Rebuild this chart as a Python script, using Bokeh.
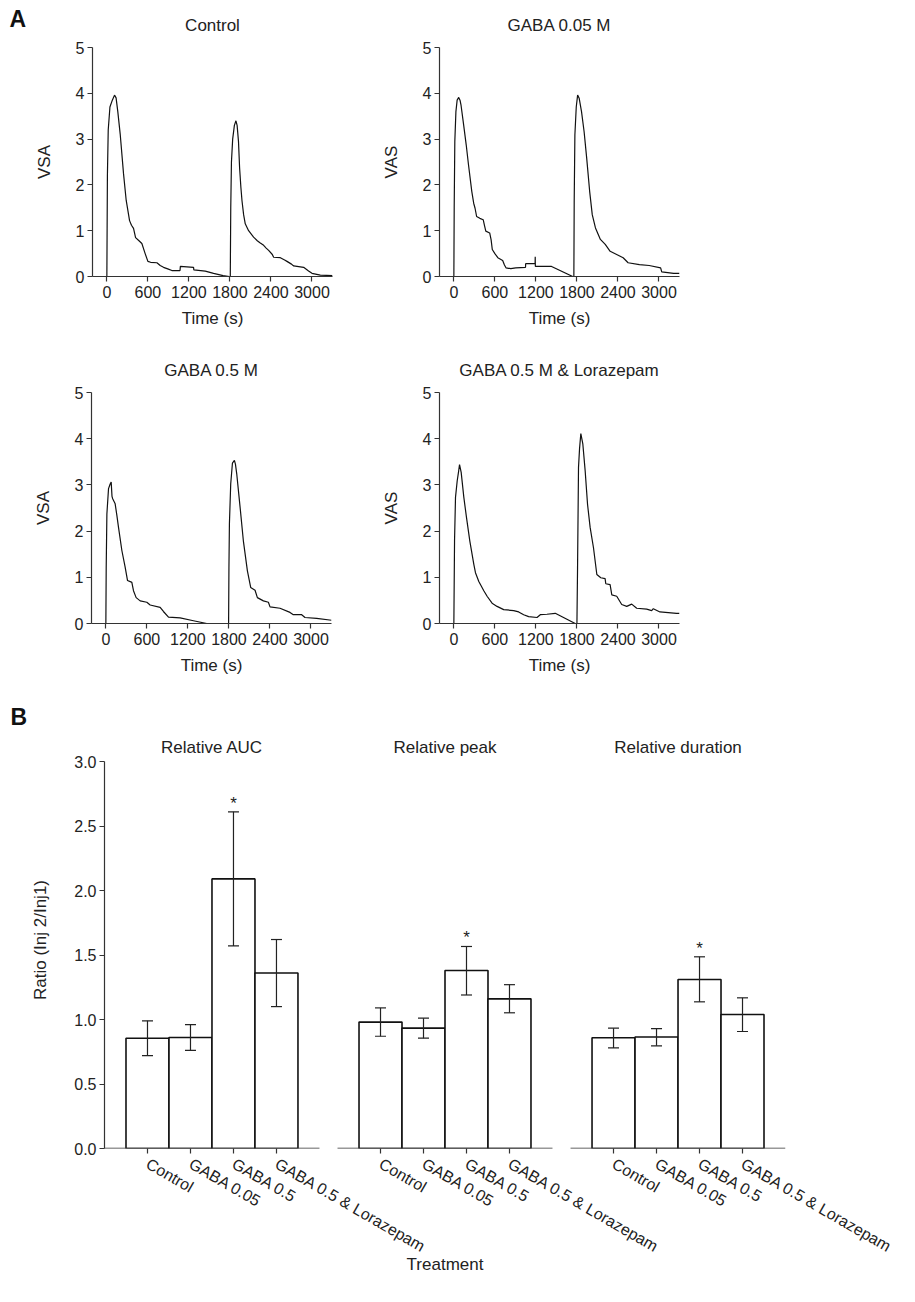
from bokeh.plotting import figure
from bokeh.layouts import column, row
from bokeh.models import (FixedTicker, Range1d, Whisker, TeeHead, LabelSet,
                          ColumnDataSource, NumeralTickFormatter)
from bokeh.core.properties import value
from bokeh.embed import file_html
from bokeh.resources import INLINE

FONT = "Liberation Sans"
TXT = "#222222"
AX = "#333333"
LINE = "#111111"

panel_letters = ["A", "B"]

# ---------------- Panel A data (time in s, VAS/VSA score) ----------------
time_ticks = [0, 600, 1200, 1800, 2400, 3000]
score_ticks = [0, 1, 2, 3, 4, 5]

ctrl_t = [0, 8, 20, 45, 80, 112, 135, 160, 195, 244, 283, 332, 360, 390, 420, 470, 512, 560, 600,
          640, 732, 780, 829, 900, 951, 1070, 1075, 1268, 1272, 1439, 1561, 1700, 1790,
          1805, 1812, 1822, 1840, 1865, 1888, 1905, 1925, 1941, 1960, 1976, 2000, 2024, 2073, 2146,
          2200, 2244, 2293, 2330, 2366, 2420, 2439, 2537, 2600, 2634, 2700, 2732, 2878, 2950, 3000,
          3122, 3300]
ctrl_v = [0, 2.2, 3.2, 3.7, 3.85, 3.96, 3.9, 3.6, 3.11, 2.24, 1.66, 1.22, 1.12, 1.05, 0.85, 0.78,
          0.72, 0.5, 0.33, 0.31, 0.3, 0.24, 0.2, 0.16, 0.13, 0.13, 0.22, 0.2, 0.145, 0.116, 0.07,
          0.02, 0.0,
          0.0, 1.5, 2.5, 3.0, 3.3, 3.4, 3.3, 2.95, 2.38, 1.95, 1.66, 1.35, 1.15, 1.0, 0.86, 0.78,
          0.73, 0.68, 0.62, 0.57, 0.48, 0.42, 0.41, 0.36, 0.33, 0.27, 0.23, 0.2, 0.12, 0.07, 0.03,
          0.02]

g005_t = [0, 5, 14, 30, 48, 71, 90, 105, 143, 181, 214, 262, 290, 310, 333, 380, 429, 450, 467,
          524, 545, 562, 600, 643, 714, 740, 762, 833, 905, 1048, 1050, 1188, 1190, 1192, 1429,
          1738, 1755,
          1760, 1770, 1790, 1810, 1833, 1867, 1905, 1943, 1986, 2024, 2071, 2143, 2214, 2286, 2381,
          2476, 2548, 2714, 2857, 3024, 3040, 3214, 3300]
g005_v = [0, 1.5, 2.95, 3.6, 3.85, 3.91, 3.85, 3.74, 3.31, 2.87, 2.44, 1.86, 1.6, 1.49, 1.31, 1.27,
          1.24, 1.1, 0.99, 0.95, 0.8, 0.59, 0.5, 0.41, 0.35, 0.25, 0.19, 0.17, 0.19, 0.2, 0.28, 0.28,
          0.43, 0.22, 0.22, 0.0, 0.0,
          1.64, 3.09, 3.7, 3.96, 3.89, 3.6, 3.16, 2.58, 1.86, 1.35, 1.06, 0.81, 0.7, 0.55, 0.48,
          0.41, 0.3, 0.26, 0.24, 0.19, 0.1, 0.07, 0.07]

g05_t = [0, 5, 15, 39, 63, 78, 90, 100, 136, 160, 185, 234, 282, 317, 365, 380, 404, 443, 502,
         599, 648, 794, 842, 916, 1086, 1281, 1476, 1795,
         1800, 1807, 1826, 1851, 1880, 1895, 1914, 1963, 2011, 2070, 2118, 2182, 2216, 2304, 2377,
         2401, 2547, 2693, 2742, 2864, 2912, 3083, 3300]
g05_v = [0, 1.2, 2.37, 2.92, 3.02, 3.06, 2.75, 2.7, 2.59, 2.35, 2.08, 1.58, 1.22, 0.93, 0.9, 0.89,
         0.71, 0.56, 0.49, 0.46, 0.4, 0.35, 0.26, 0.14, 0.12, 0.06, 0.0, 0.0,
         1.2, 2.16, 3.02, 3.47, 3.53, 3.45, 3.24, 2.52, 1.79, 1.14, 0.78, 0.72, 0.56, 0.49, 0.46,
         0.36, 0.33, 0.24, 0.19, 0.19, 0.13, 0.11, 0.07]

lor_t = [0, 10, 24, 49, 70, 83, 107, 146, 185, 233, 292, 316, 365, 438, 486, 559, 632, 729, 875,
         948, 1021, 1094, 1216, 1264, 1361, 1483, 1775, 1800,
         1809, 1823, 1838, 1857, 1886, 1920, 1955, 1993, 2042, 2091, 2149, 2212, 2222, 2285, 2310,
         2382, 2455, 2528, 2601, 2674, 2820, 2893, 2917, 3014, 3257, 3300]
lor_v = [0, 1.79, 2.73, 3.09, 3.3, 3.44, 3.27, 2.73, 2.29, 1.79, 1.28, 1.1, 0.91, 0.71, 0.59, 0.44,
         0.37, 0.3, 0.28, 0.25, 0.19, 0.15, 0.13, 0.19, 0.2, 0.22, 0.0, 0.0,
         1.2, 3.38, 3.78, 4.11, 3.89, 3.31, 2.58, 2.08, 1.64, 1.06, 0.99, 0.97, 0.86, 0.84, 0.62,
         0.59, 0.41, 0.37, 0.42, 0.33, 0.31, 0.28, 0.32, 0.25, 0.22, 0.22]

# ---------------- Panel B data ----------------
categories = ["Control", "GABA 0.05", "GABA 0.5", "GABA 0.5 & Lorazepam"]
measures = ["Relative AUC", "Relative peak", "Relative duration"]
ratio_ticks = [0.0, 0.5, 1.0, 1.5, 2.0, 2.5, 3.0]

auc_mean = [0.855, 0.86, 2.09, 1.36]
auc_lo = [0.72, 0.76, 1.57, 1.10]
auc_hi = [0.99, 0.96, 2.61, 1.62]

peak_mean = [0.98, 0.933, 1.38, 1.16]
peak_lo = [0.87, 0.855, 1.19, 1.052]
peak_hi = [1.09, 1.01, 1.566, 1.27]

dur_mean = [0.858, 0.864, 1.31, 1.039]
dur_lo = [0.78, 0.796, 1.137, 0.907]
dur_hi = [0.933, 0.93, 1.486, 1.168]

significant = [False, False, True, False]


def style_axes(p):
    for ax in p.axis:
        ax.axis_line_color = AX
        ax.axis_line_width = 1.2
        ax.major_tick_line_color = AX
        ax.major_tick_line_width = 1.2
        ax.major_tick_out = 5
        ax.major_tick_in = 0
        ax.minor_tick_line_color = None
        ax.major_label_text_font = FONT
        ax.major_label_text_font_size = "16px"
        ax.major_label_text_color = TXT
        ax.axis_label_text_font = FONT
        ax.axis_label_text_font_size = "17px"
        ax.axis_label_text_font_style = "normal"
        ax.axis_label_text_color = TXT
    p.xgrid.visible = False
    p.ygrid.visible = False
    p.outline_line_color = None


def line_panel(title, ylabel, t, v, left, right, top, bottom, fh):
    p = figure(frame_width=240, frame_height=fh,
               x_range=Range1d(-210, 3300), y_range=Range1d(0, 5),
               output_backend="svg", toolbar_location=None,
               min_border_left=left, min_border_right=right,
               min_border_top=top, min_border_bottom=bottom)
    p.title.text = title
    p.title.align = "center"
    p.title.text_font = FONT
    p.title.text_font_size = "17px"
    p.title.text_font_style = "normal"
    p.title.text_color = TXT
    p.title.standoff = 26
    p.line(t, v, line_color=LINE, line_width=1.2)
    p.xaxis.ticker = FixedTicker(ticks=time_ticks)
    p.yaxis.ticker = FixedTicker(ticks=score_ticks)
    p.xaxis.axis_label = "Time (s)"
    p.yaxis.axis_label = ylabel
    style_axes(p)
    p.xaxis.major_label_standoff = 4
    p.xaxis.axis_label_standoff = 8
    p.yaxis.major_label_standoff = 3
    p.yaxis.axis_label_standoff = 19
    return p


# narrow strip carrying the "A" letter (wrapped in a column so its frame is not aligned)
pa = figure(frame_width=31, frame_height=340, x_range=Range1d(0, 31), y_range=Range1d(0, 340),
            x_axis_type=None, y_axis_type=None, output_backend="svg", toolbar_location=None,
            min_border=0, title=None)
pa.grid.visible = False
pa.outline_line_color = None
pa.text(x=[9], y=[321.5], text=[panel_letters[0]], text_font=value(FONT), text_font_size="23px",
        text_font_style="bold", text_color="#111111", text_baseline="middle",
        text_align="left")

p1 = line_panel("Control", "VSA", ctrl_t, ctrl_v, 61, 27, 47, 64, 229)
p2 = line_panel("GABA 0.05 M", "VAS", g005_t, g005_v, 80, 40, 47, 64, 229)
p3 = line_panel("GABA 0.5 M", "VSA", g05_t, g05_v, 91, 27, 52, 67, 231)
p4 = line_panel("GABA 0.5 M & Lorazepam", "VAS", lor_t, lor_v, 81, 40, 52, 67, 231)

# ---------------- Panel B figure ----------------
gap = 5.42
n = len(categories)
y_top = ratio_ticks[-1]
pb = figure(frame_width=681, frame_height=417,
            x_range=Range1d(-1, 2 * gap + n), y_range=Range1d(0, y_top + 0.2326),
            output_backend="svg", toolbar_location=None,
            min_border_left=104, min_border_right=128, min_border_top=41, min_border_bottom=150)

means = [auc_mean, peak_mean, dur_mean]
los = [auc_lo, peak_lo, dur_lo]
his = [auc_hi, peak_hi, dur_hi]

xs, tops, lo_all, hi_all, stars = [], [], [], [], []
tick_pos, tick_lab = [], []
for k in range(len(measures)):
    for i, c in enumerate(categories):
        x = round(k * gap + i, 2)
        xs.append(x)
        tops.append(means[k][i])
        lo_all.append(los[k][i])
        hi_all.append(his[k][i])
        stars.append("*" if significant[i] else "")
        tick_pos.append(x)
        tick_lab.append(c)

src = ColumnDataSource(dict(x=xs, top=tops, lo=lo_all, hi=hi_all, star=stars))
pb.vbar(x="x", top="top", width=1.0, bottom=0, source=src,
        fill_color="white", line_color=LINE, line_width=1.6)

wh = Whisker(source=src, base="x", upper="hi", lower="lo", line_color="#222222", line_width=1.2,
             upper_head=TeeHead(size=11, line_color="#222222", line_width=1.2),
             lower_head=TeeHead(size=11, line_color="#222222", line_width=1.2))
wh.level = "overlay"
pb.add_layout(wh)

pb.add_layout(LabelSet(x="x", y="hi", text="star", source=src, text_align="center",
                       text_baseline="alphabetic", y_offset=3, text_font=value(FONT),
                       text_font_size="17px", text_color=TXT))

# per-panel baseline (x axis line of each panel)
base_x0 = [round(k * gap - 1, 2) for k in range(len(measures))]
base_x1 = [round(k * gap + n, 2) for k in range(len(measures))]
pb.segment(x0=base_x0, x1=base_x1, y0=[0] * 3, y1=[0] * 3, line_color=AX, line_width=1.6)

# panel titles
tsrc = ColumnDataSource(dict(x=[round(k * gap + (n - 1) / 2, 2) for k in range(len(measures))],
                             y=[y_top] * len(measures), text=measures))
pb.add_layout(LabelSet(x="x", y="y", text="text", source=tsrc, text_align="center",
                       text_baseline="middle", y_offset=14, text_font=value(FONT),
                       text_font_size="17px", text_color=TXT))

pb.title.text = panel_letters[1]
pb.title.align = "left"
pb.title.offset = -94
pb.title.standoff = 4
pb.title.text_font = FONT
pb.title.text_font_size = "23px"
pb.title.text_font_style = "bold"
pb.title.text_color = "#111111"

pb.xaxis.ticker = FixedTicker(ticks=tick_pos)
pb.xaxis.major_label_overrides = {tp: lab for tp, lab in zip(tick_pos, tick_lab)}
pb.yaxis.ticker = FixedTicker(ticks=ratio_ticks)
pb.yaxis.formatter = NumeralTickFormatter(format="0.0")
pb.yaxis.bounds = (0, y_top)
pb.xaxis.axis_label = "Treatment"
pb.yaxis.axis_label = "Ratio (Inj 2/Inj1)"
style_axes(pb)
pb.xaxis.axis_line_color = None
pb.xaxis.major_label_orientation = -0.5236
pb.xaxis.major_label_standoff = 9
pb.xaxis.axis_label_standoff = -11
pb.yaxis.major_label_standoff = 3
pb.yaxis.axis_label_standoff = 21

layout = column(row(column(pa), p1, p2), row(p3, p4), pb)
open("out.html", "w").write(file_html(layout, INLINE))
